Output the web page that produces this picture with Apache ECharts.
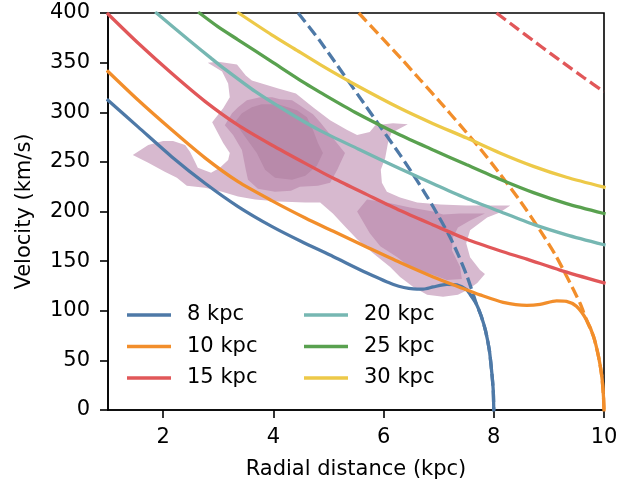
<!DOCTYPE html>
<html>
<head>
<meta charset="utf-8">
<script src="https://cdn.jsdelivr.net/npm/echarts@6/dist/echarts.min.js"></script>
<style>
html,body{margin:0;padding:0;background:#fff;}
#chart{width:644px;height:487px;}
</style>
</head>
<body>
<div id="chart"></div>
<script>
// ---- tick labels ----
const xTickValues = [2, 4, 6, 8, 10];
const yTickInterval = 50;

// ---- series names / colours ----
const names = ['8 kpc', '10 kpc', '15 kpc', '20 kpc', '25 kpc', '30 kpc'];
const colors = ['#4e79a7', '#f28e2b', '#e15759', '#76b7b2', '#59a14f', '#edc948'];

// ---- solid curves: [radial distance (kpc), velocity (km/s)] ----
const curve8 = [[1,312],[1.55,285],[2.16,255],[2.76,228.5],[3.36,205],[3.97,185],[4.5,170],[5.09,154.5],[5.7,138],[6.18,126.5],[6.54,122],[6.72,121.8],[6.9,124],[7.15,126.5],[7.33,126],[7.51,121],[7.6,114],[7.69,106],[7.77,95],[7.85,80],[7.92,60],[7.96,40],[7.99,20],[8.0,0]];
const curve10 = [[1,341],[1.55,312],[2.16,282],[2.76,254],[3.36,230],[3.97,211],[4.58,193.5],[5.09,180],[5.7,164],[6.3,148.5],[6.9,134],[7.39,123.5],[7.75,116],[8.17,108.5],[8.6,105.5],[8.84,106.5],[9.14,110],[9.32,109.5],[9.5,104.5],[9.68,91],[9.81,74],[9.9,54],[9.96,34],[9.99,14],[10,0]];
const curve15 = [[1,399],[1.55,369.5],[2.16,339],[2.76,311],[3.36,287],[3.97,267],[4.58,248.5],[5.09,233.5],[5.7,217],[6.3,201],[6.9,186.5],[7.51,172],[8.11,160.5],[8.6,152],[9.2,141],[10,128]];
const curve20 = [[1.88,400],[2.46,373],[2.88,354],[3.06,346],[3.67,321],[4.33,298],[4.85,281.5],[5.54,263],[6.3,243],[6.9,228],[7.51,213],[8.11,200],[8.72,187],[9.32,176.5],[10,166.5]];
const curve25 = [[2.66,400],[3.0,386],[3.36,373],[3.97,351],[4.58,329],[4.85,320],[5.48,300],[6.3,277],[6.9,262],[7.51,247],[8.11,232.5],[8.72,219],[9.32,208],[10,198]];
const curve30 = [[3.37,400],[3.97,378],[4.38,364],[4.85,348],[5.48,328],[6.3,304],[6.9,288.5],[7.51,274],[8.11,259],[8.72,245.5],[9.32,234.5],[10,224.5]];

// ---- dashed curves ----
const dashed8 = [[4.45,400],[4.85,371.5],[5.94,285.5],[6.3,257],[6.6,231.8],[6.9,204.8],[7.2,174.8],[7.35,157],[7.51,135.5],[7.63,116],[7.69,106],[7.77,95],[7.85,80],[7.92,60],[7.96,40],[7.99,20],[8.0,0]];
const dashed10 = [[5.55,400],[6.33,353.5],[6.66,333],[7.03,310],[7.39,287],[7.75,263.5],[8.11,238],[8.48,210.5],[8.84,181],[9.11,157],[9.32,135],[9.57,107],[9.68,91],[9.81,74],[9.9,54],[9.96,34],[9.99,14],[10,0]];
const dashed15 = [[8.05,400],[8.42,384.5],[8.72,372],[9.02,359.6],[9.32,347.4],[9.63,335],[10,320.7]];

// ---- density contours (polygon vertices in data units) ----
const contourOuter = [[1.45,257],[1.73,267],[2.00,271],[2.18,271],[2.40,267],[2.49,260],[2.58,250],[2.63,244],[2.87,239],[3.03,244],[3.18,252],[3.21,259],[3.09,269],[2.89,290],[3.09,304],[3.21,315],[3.18,329],[3.07,341],[2.81,350],[3.00,351],[3.34,348],[3.50,337],[3.61,332],[4.09,324],[4.41,319],[4.72,305],[5.03,292],[5.34,282],[5.52,277],[5.75,280],[5.85,287],[6.17,289],[6.44,288],[6.14,279],[6.08,269],[6.03,254],[5.95,242],[5.97,229],[6.06,220],[6.30,214],[6.61,209],[7.03,207],[7.50,206],[7.88,206],[8.30,206],[8.11,199],[7.88,194],[7.57,181],[7.50,168],[7.57,154],[7.75,141],[7.84,137],[7.70,128],[7.52,121],[7.35,116],[7.08,114],[6.79,116],[6.54,124],[6.30,134],[6.12,144],[5.81,158],[5.52,172],[5.30,185],[5.08,198],[4.85,209],[4.58,209],[4.09,210],[3.67,212],[3.36,215],[3.07,220],[2.76,224],[2.43,226],[2.25,234],[2.03,240],[1.73,249]];
const contourMidUpper = [[3.12,287],[3.25,299],[3.36,305],[3.52,312],[3.76,315],[3.98,315],[4.12,313],[4.34,312],[4.48,307],[4.61,302],[4.72,298],[4.85,290],[5.08,274],[5.30,259],[5.16,242],[5.03,229],[4.81,226],[4.48,225],[4.32,221],[4.03,220],[3.72,223],[3.54,232],[3.50,242],[3.43,262],[3.27,277]];
const contourMidLower = [[5.52,200],[5.70,212],[6.06,209],[6.48,204],[6.90,200],[7.08,197],[7.39,198],[7.84,198],[7.57,191],[7.35,184],[7.26,174],[7.24,161],[7.39,144],[7.42,132],[7.15,131],[6.75,139],[6.48,144],[6.25,154],[5.94,165],[5.75,178]];
const contourInner = [[3.30,290],[3.43,299],[3.61,305],[3.79,308],[4.09,308],[4.43,302],[4.61,295],[4.72,282],[4.81,269],[4.90,259],[4.79,246],[4.58,236],[4.34,232],[4.03,234],[3.85,242],[3.70,259],[3.49,275]];

const contourColors = ['#d7b9cf', '#c499b8', '#b88aaa'];

const FONT = 'DejaVu Sans';
const FS = 21;

function polySeries(pts, color) {
  return {
    type: 'custom',
    data: pts,
    encode: { x: 0, y: 1 },
    clip: true,
    silent: true,
    z: 1,
    animation: false,
    renderItem: function (params, api) {
      if (params.dataIndex !== 0) return null;
      return {
        type: 'polygon',
        shape: { points: pts.map(function (p) { return api.coord(p); }) },
        style: { fill: color }
      };
    }
  };
}

function lineSeries(name, data, color, dashed) {
  return {
    type: 'line',
    name: name,
    data: data,
    symbol: 'none',
    showSymbol: false,
    smooth: 0.25,
    clip: true,
    z: 3,
    emphasis: { disabled: true },
    itemStyle: { color: color },
    lineStyle: { color: color, width: 3.3, type: dashed ? [11.6, 5] : 'solid', cap: dashed ? 'butt' : 'square' }
  };
}

const solids = [curve8, curve10, curve15, curve20, curve25, curve30];

const series = [
  polySeries(contourOuter, contourColors[0]),
  polySeries(contourMidUpper, contourColors[1]),
  polySeries(contourMidLower, contourColors[1]),
  polySeries(contourInner, contourColors[2])
];
series.push(lineSeries(names[0] + ' (b)', dashed8, colors[0], true));
series.push(lineSeries(names[1] + ' (b)', dashed10, colors[1], true));
series.push(lineSeries(names[2] + ' (b)', dashed15, colors[2], true));
solids.forEach(function (d, i) { series.push(lineSeries(names[i], d, colors[i], false)); });

function legendCfg(items, left) {
  return {
    data: items,
    orient: 'vertical',
    left: left,
    top: 303,
    padding: 0,
    icon: 'rect',
    itemWidth: 44,
    itemHeight: 3.3,
    itemGap: 7.5,
    selectedMode: false,
    textStyle: { fontFamily: FONT, fontSize: FS, color: '#000', lineHeight: 24, padding: [0, 0, 0, 11] }
  };
}

const chart = echarts.init(document.getElementById('chart'), null, { renderer: 'canvas' });
chart.setOption({
  animation: false,
  backgroundColor: '#fff',
  grid: {
    left: 108, right: 40, top: 13, bottom: 77,
    containLabel: false,
    outerBoundsMode: 'none',
    show: true, borderColor: '#000', borderWidth: 1.6, backgroundColor: 'transparent'
  },
  legend: [legendCfg(names.slice(0, 3), 127), legendCfg(names.slice(3), 304)],
  xAxis: {
    type: 'value', min: 1, max: 10,
    name: 'Radial distance (kpc)', nameLocation: 'middle', nameGap: 49,
    nameTextStyle: { fontFamily: FONT, fontSize: FS, color: '#000' },
    axisLine: { show: true, lineStyle: { color: '#000', width: 1.6 } },
    axisTick: { show: true, inside: false, length: 8, customValues: xTickValues, lineStyle: { color: '#000', width: 1.6 } },
    axisLabel: { customValues: xTickValues, margin: 17, fontFamily: FONT, fontSize: FS, color: '#000' },
    splitLine: { show: false }
  },
  yAxis: {
    type: 'value', min: 0, max: 400, interval: yTickInterval,
    name: 'Velocity (km/s)', nameLocation: 'middle', nameGap: 73,
    nameTextStyle: { fontFamily: FONT, fontSize: FS, color: '#000' },
    axisLine: { show: true, lineStyle: { color: '#000', width: 1.6 } },
    axisTick: { show: true, inside: false, length: 8, lineStyle: { color: '#000', width: 1.6 } },
    axisLabel: { margin: 18, fontFamily: FONT, fontSize: FS, color: '#000' },
    splitLine: { show: false }
  },
  series: series
});
</script>
</body>
</html>
